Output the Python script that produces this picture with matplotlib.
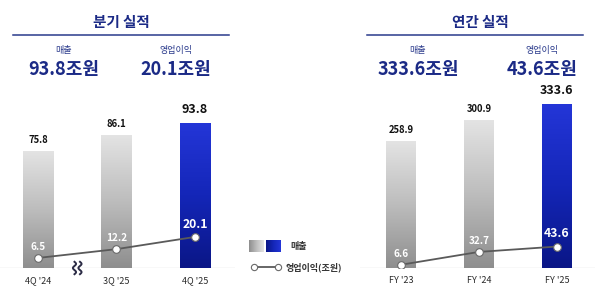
import numpy as np
import matplotlib
matplotlib.use("Agg")
import matplotlib.pyplot as plt
from matplotlib.colors import LinearSegmentedColormap
from matplotlib.lines import Line2D

plt.rcParams['font.family'] = ['Noto Sans CJK KR', 'DejaVu Sans']

# 분기 실적
q_labels = ["4Q '24", "3Q '25", "4Q '25"]
q_sales = [75.8, 86.1, 93.8]
q_op = [6.5, 12.2, 20.1]

# 연간 실적
y_labels = ["FY '23", "FY '24", "FY '25"]
y_sales = [258.9, 300.9, 333.6]
y_op = [6.6, 32.7, 43.6]

NAVY = "#1b2a86"
W, H = 600, 296

gray_cmap = LinearSegmentedColormap.from_list("g", ["#8e8e8e", "#bdbdbd", "#e4e4e4"])
blue_cmap = LinearSegmentedColormap.from_list("b", ["#0a1686", "#1426b8", "#2436d8"])

fig = plt.figure(figsize=(6, 2.96), dpi=100)


def fx(px):
    return px / W


def fy(py):
    return 1 - py / H


def gradient_fill(ax, bar, cmap):
    x0, y0 = bar.get_x(), bar.get_y()
    w, h = bar.get_width(), bar.get_height()
    grad = np.linspace(0, 1, 256).reshape(-1, 1)
    im = ax.imshow(grad, cmap=cmap, origin="lower", aspect="auto",
                   extent=(x0, x0 + w, y0, y0 + h), zorder=2)
    im.set_clip_path(bar)


def draw_panel(rect, labels, sales, op, ymax, xlim):
    ax = fig.add_axes(rect)
    x = np.arange(len(labels))
    bars = ax.bar(x, sales, width=0.385, color="none", edgecolor="none", zorder=2)
    for i, b in enumerate(bars):
        gradient_fill(ax, b, blue_cmap if i == len(labels) - 1 else gray_cmap)
    ax.axhline(0, color="#dcdcdc", lw=1, zorder=1)
    ax.plot(x, op, color="#5a5a5a", lw=1.3, zorder=4, marker="o", ms=5.5,
            mfc="white", mec="#6a6a6a", mew=0.8)
    for i, (s, o) in enumerate(zip(sales, op)):
        last = i == len(labels) - 1
        ax.annotate(f"{s:.1f}", (x[i], s), xytext=(0, 4 if not last else 5),
                    textcoords="offset points", ha="center", va="bottom",
                    fontsize=9 if last else 6.8, fontweight="bold", color="#111111")
        ax.annotate(f"{o:.1f}", (x[i], o), xytext=(0, 4.5),
                    textcoords="offset points", ha="center", va="bottom",
                    fontsize=8.8 if last else 7.2, fontweight="bold", color="white", zorder=5)
    ax.set_xlim(*xlim)
    ax.set_ylim(0, ymax)
    ax.set_xticks(x)
    ax.set_xticklabels(labels, fontsize=6.5, color="#2a2a2a", fontweight="medium")
    ax.tick_params(length=0, pad=6)
    for sp in ax.spines.values():
        sp.set_visible(False)
    ax.set_yticks([])
    ax.patch.set_alpha(0)
    return ax


axq = draw_panel([fx(0), fy(268), fx(235), (268 - 110) / H], q_labels, q_sales, q_op,
                 102.2, (-0.484, 2.51))
axy = draw_panel([fx(360), fy(268), fx(235), (268 - 90) / H], y_labels, y_sales, y_op,
                 361.8, (-0.526, 2.49))

# 축 생략 표시
t = np.linspace(0, 1, 40)
for dx in (-0.035, 0.035):
    xs = 0.5 + dx + 0.02 * np.sin(t * 2 * np.pi * 1.5)
    ys = 4.0 - 8 * t
    axq.plot(xs, ys, color="#2b2b45", lw=1.4, clip_on=False, zorder=6)

# 헤더
for cx, title, x1, x2 in [(121, "분기 실적", 13, 229), (480, "연간 실적", 367, 583)]:
    fig.text(fx(cx), fy(22), title, ha="center", va="center", fontsize=10.5,
             fontweight="bold", color=NAVY)
    fig.add_artist(Line2D([fx(x1), fx(x2)], [fy(35), fy(35)], color="#2a3a8c", lw=1.1))

heads = [(64, "매출", "93.8조원"), (176, "영업이익", "20.1조원"),
         (418, "매출", "333.6조원"), (542, "영업이익", "43.6조원")]
for cx, lab, val in heads:
    fig.text(fx(cx), fy(51), lab, ha="center", va="center", fontsize=6.5,
             fontweight="medium", color="#2a3a8c")
    fig.text(fx(cx), fy(70), val, ha="center", va="center", fontsize=13,
             fontweight="semibold", color=NAVY)

# 범례
lg = fig.add_axes([0, 0, 1, 1])
lg.axis("off")
lg.patch.set_alpha(0)
grad_h = np.linspace(0, 1, 64).reshape(1, -1)
lg.imshow(grad_h, cmap=gray_cmap, extent=(249, 264, 252, 240), aspect="auto")
lg.imshow(grad_h, cmap=blue_cmap, extent=(266, 281, 252, 240), aspect="auto")
lg.set_xlim(0, W)
lg.set_ylim(H, 0)
lg.text(290, 246, "매출", ha="left", va="center", fontsize=6.5, fontweight="bold", color="#333333")
lg.plot([254, 278], [267, 267], color="#5a5a5a", lw=1.3, marker="o", ms=4.5,
        mfc="white", mec="#6a6a6a", mew=0.8)
lg.text(286, 267, "영업이익(조원)", ha="left", va="center", fontsize=6.5,
        fontweight="bold", color="#333333")

fig.savefig("out.png", dpi=100)
